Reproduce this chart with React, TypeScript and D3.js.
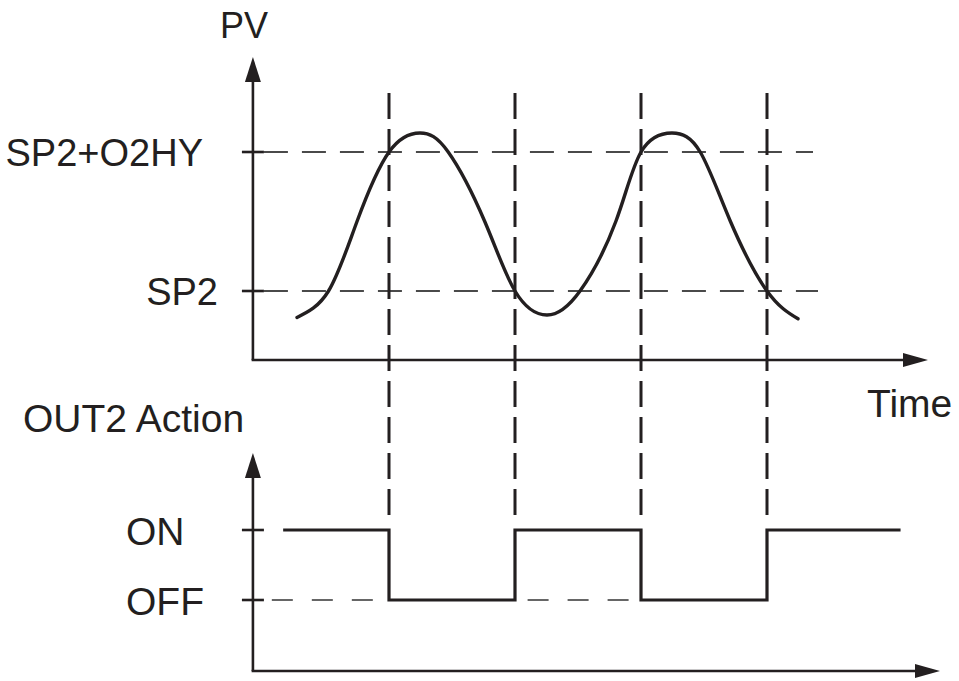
import React from "react";
import * as d3 from "d3";

// PV curve (time units, PV where SP2 = 0 and SP2+O2HY = 1)
const pvTime = [2.7, 5.2, 7.46, 10.0, 12.46, 14.7, 17.6, 20.0, 22.54, 25.16, 28.0, 30.0, 32.46, 34.7, 37.1, 40.0, 42.46];
const pvValue = [-0.19, 0, 0.5, 1.0, 1.137, 1.0, 0.5, 0, -0.173, 0, 0.5, 1.0, 1.137, 1.0, 0.5, 0, -0.2];

// OUT2 action steps (1 = ON, 0 = OFF)
const outTime = [1.6, 10, 20, 30, 40, 50.6];
const outState = [1, 0, 1, 0, 1, 1];

// switching instants (vertical dashed guides)
const switchTimes = [10, 20, 30, 40];

// level labels
const pvLevels = [1, 0];
const pvLevelLabels = ["SP2+O2HY", "SP2"];
const outLevels = [1, 0];
const outLevelLabels = ["ON", "OFF"];

// OFF reference dashes visible while output is ON
const offGuideStarts = [0.7, 21.0];
const offGuideEnds = [8.9, 29.3];

const W = 959;
const H = 681;
const INK = "#231f20";
const GRAY = "#4a4a4a";
const FONT = "'Liberation Sans', Arial, sans-serif";

export default function App() {
  const x = d3.scaleLinear().domain([0, 50]).range([263, 893]);
  const yTop = d3.scaleLinear().domain([0, 1]).range([291, 152]);
  const yBot = d3.scaleLinear().domain([0, 1]).range([600, 530]);

  const axisX = x(-0.8);
  const topAxisY = 360;
  const botAxisY = 671;

  const pvData = pvTime.map((t, i) => [t, pvValue[i]] as [number, number]);
  const pvLine = d3
    .line<[number, number]>()
    .x((d) => x(d[0]))
    .y((d) => yTop(d[1]))
    .curve(d3.curveNatural);

  const outData = outTime.map((t, i) => [t, outState[i]] as [number, number]);
  const outLine = d3
    .line<[number, number]>()
    .x((d) => x(d[0]))
    .y((d) => yBot(d[1]))
    .curve(d3.curveStepAfter);

  const arrowUp = (cx: number, tip: number) =>
    `M${cx},${tip} L${cx - 8},${tip + 25} L${cx + 8},${tip + 25} Z`;
  const arrowRight = (tip: number, cy: number) =>
    `M${tip},${cy} L${tip - 25},${cy - 7} L${tip - 25},${cy + 7} Z`;

  const topGuideEnds = [813, 818];
  const labelRight = [203, 218];

  return (
    <svg width={W} height={H} style={{ position: "absolute", left: 0, top: 0, background: "#fff" }}>
      <rect width={W} height={H} fill="#fff" />

      {/* top horizontal dashed guides */}
      {pvLevels.map((v, i) => (
        <line
          key={"hg" + i}
          x1={axisX + 11}
          x2={topGuideEnds[i]}
          y1={yTop(v)}
          y2={yTop(v)}
          stroke={GRAY}
          strokeWidth={2}
          strokeDasharray="24,14"
        />
      ))}

      {/* OFF guides */}
      {offGuideStarts.map((s, i) => (
        <line
          key={"og" + i}
          x1={x(s)}
          x2={x(offGuideEnds[i])}
          y1={yBot(0)}
          y2={yBot(0)}
          stroke="#666"
          strokeWidth={1.8}
          strokeDasharray="21,19"
        />
      ))}

      {/* vertical dashed switching guides */}
      {switchTimes.map((t, i) => (
        <line
          key={"vg" + i}
          x1={x(t)}
          x2={x(t)}
          y1={93}
          y2={yBot(1) - 6}
          stroke={INK}
          strokeWidth={3}
          strokeDasharray="26,10"
        />
      ))}

      {/* top axes */}
      <line x1={axisX} x2={axisX} y1={75} y2={topAxisY} stroke={INK} strokeWidth={2.6} />
      <path d={arrowUp(axisX, 57)} fill={INK} />
      <line x1={axisX - 1.3} x2={910} y1={topAxisY} y2={topAxisY} stroke={INK} strokeWidth={2.6} />
      <path d={arrowRight(928, topAxisY)} fill={INK} />

      {/* top ticks */}
      {pvLevels.map((v, i) => (
        <line key={"tt" + i} x1={axisX - 11} x2={axisX + 11} y1={yTop(v)} y2={yTop(v)} stroke={INK} strokeWidth={2.6} />
      ))}

      {/* bottom axes */}
      <line x1={axisX} x2={axisX} y1={470} y2={botAxisY} stroke={INK} strokeWidth={2.6} />
      <path d={arrowUp(axisX, 453)} fill={INK} />
      <line x1={axisX - 1.3} x2={922} y1={botAxisY} y2={botAxisY} stroke={INK} strokeWidth={2.6} />
      <path d={arrowRight(940, botAxisY)} fill={INK} />

      {outLevels.map((v, i) => (
        <line key={"bt" + i} x1={axisX - 11} x2={axisX + 11} y1={yBot(v)} y2={yBot(v)} stroke={INK} strokeWidth={2.6} />
      ))}

      {/* PV curve */}
      <path d={pvLine(pvData) || ""} fill="none" stroke={INK} strokeWidth={3.4} strokeLinecap="round" />

      {/* OUT2 step */}
      <path d={outLine(outData) || ""} fill="none" stroke={INK} strokeWidth={3.2} strokeLinejoin="miter" />

      {/* labels */}
      <g fontFamily={FONT} fill={INK} fontWeight={400}>
        <text x={244} y={38} fontSize={36} textAnchor="middle">PV</text>
        {pvLevelLabels.map((s, i) => (
          <text key={"pl" + i} x={labelRight[i]} y={yTop(pvLevels[i]) + 14} fontSize={38} textAnchor="end">
            {s}
          </text>
        ))}
        <text x={867} y={417} fontSize={39}>Time</text>
        <text x={23} y={432} fontSize={39}>OUT2 Action</text>
        {outLevelLabels.map((s, i) => (
          <text key={"ol" + i} x={126} y={yBot(outLevels[i]) + 15} fontSize={39}>
            {s}
          </text>
        ))}
      </g>
    </svg>
  );
}
